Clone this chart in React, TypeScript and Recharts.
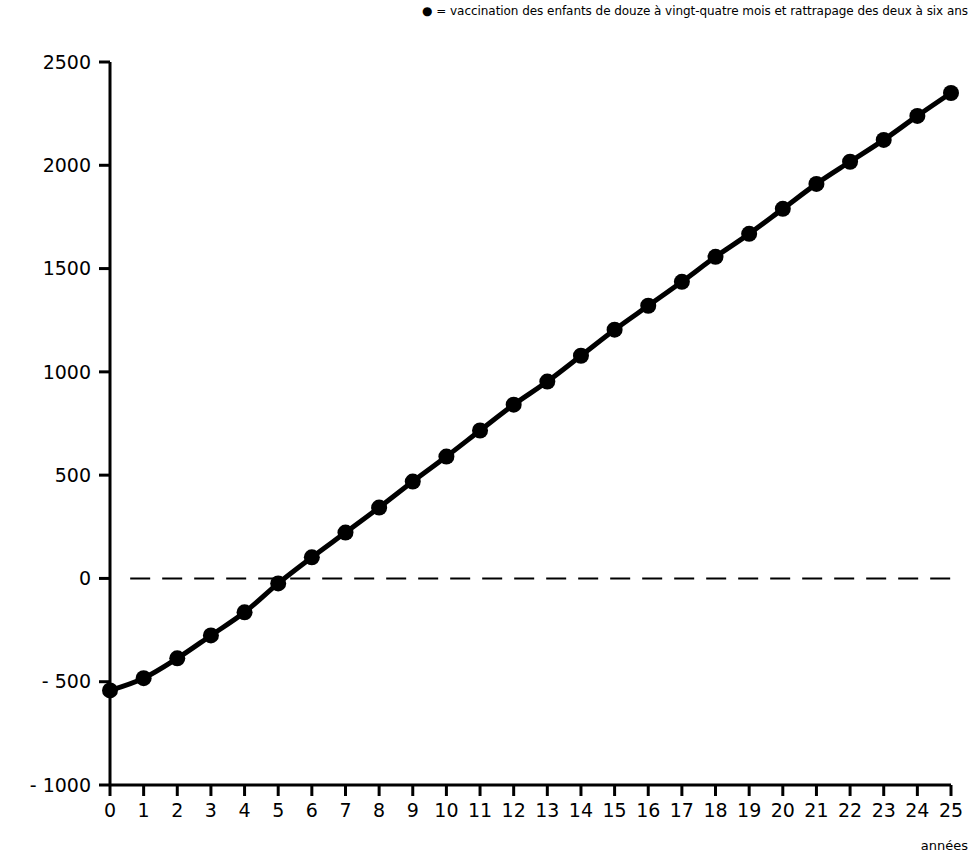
import {
  LineChart,
  Line,
  XAxis,
  YAxis,
  ReferenceLine,
} from 'recharts'

// years since start of programme
const YEARS = [
  0, 1, 2, 3, 4, 5, 6, 7, 8, 9, 10, 11, 12, 13, 14, 15, 16, 17, 18, 19, 20, 21, 22, 23, 24, 25,
]

// net value
const NET_VALUES = [
  -542, -483, -387, -276, -164, -24, 102, 222, 343, 469, 590, 716, 841, 953, 1078, 1204, 1320,
  1436, 1557, 1668, 1789, 1910, 2017, 2123, 2239, 2350,
]

const Y_TICKS = [-1000, -500, 0, 500, 1000, 1500, 2000, 2500]

const LEGEND_TEXT =
  '● = vaccination des enfants de douze à vingt-quatre mois et rattrapage des deux à six ans'
const X_LABEL = 'années'

const FONT = '"DejaVu Sans", sans-serif'
const INK = '#000'

const data = YEARS.map((year, i) => ({ year, net: NET_VALUES[i] }))

function formatY(v: number) {
  return v < 0 ? `- ${Math.abs(v)}` : `${v}`
}

export default function App() {
  return (
    <div
      style={{
        position: 'absolute',
        left: 0,
        top: 0,
        width: 971,
        height: 862,
        background: '#fff',
        fontFamily: FONT,
        overflow: 'hidden',
      }}
    >
      <div
        style={{
          position: 'absolute',
          right: 3,
          top: 4,
          fontSize: 12,
          color: INK,
          whiteSpace: 'nowrap',
          letterSpacing: -0.05,
        }}
      >
        {LEGEND_TEXT}
      </div>
      <div
        style={{
          position: 'absolute',
          right: 3,
          top: 838,
          fontSize: 13,
          color: INK,
        }}
      >
        {X_LABEL}
      </div>
      <LineChart
        width={971}
        height={862}
        data={data}
        margin={{ top: 62, right: 20, left: 0, bottom: 0 }}
      >
        <XAxis
          dataKey="year"
          type="number"
          domain={[0, 25]}
          ticks={YEARS}
          interval={0}
          height={77}
          tickSize={11}
          tickMargin={8}
          stroke={INK}
          strokeWidth={3}
          tick={{ fill: INK, fontSize: 19, fontFamily: FONT }}
        />
        <YAxis
          type="number"
          domain={[-1000, 2500]}
          ticks={Y_TICKS}
          interval={0}
          width={110}
          tickSize={11}
          tickMargin={8}
          stroke={INK}
          strokeWidth={3}
          tickFormatter={formatY}
          tick={{ fill: INK, fontSize: 19, fontFamily: FONT }}
        />
        <ReferenceLine
          segment={[
            { x: 0.6, y: 0 },
            { x: 25, y: 0 },
          ]}
          stroke={INK}
          strokeWidth={2}
          strokeDasharray="20 12"
        />
        <Line
          type="monotone"
          dataKey="net"
          stroke={INK}
          strokeWidth={5}
          dot={{ r: 8, fill: INK, stroke: INK, strokeWidth: 0 }}
          activeDot={false}
          isAnimationActive={false}
        />
      </LineChart>
    </div>
  )
}
